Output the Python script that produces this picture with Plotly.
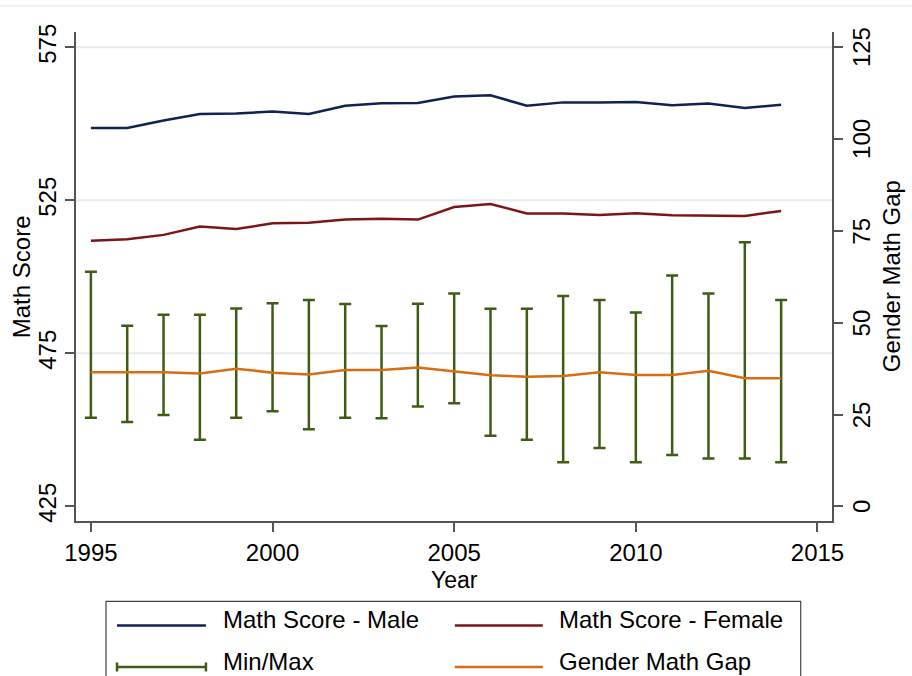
import plotly.graph_objects as go

# ---- data ----
years = list(range(1995, 2015))
male = [548.6, 548.6, 551.1, 553.2, 553.4, 554.0, 553.2, 555.9, 556.7, 556.8,
        558.9, 559.3, 555.9, 557.0, 557.0, 557.1, 556.1, 556.6, 555.2, 556.2]
female = [511.8, 512.3, 513.7, 516.4, 515.6, 517.5, 517.7, 518.7, 519.0, 518.7,
          522.8, 523.8, 520.7, 520.7, 520.2, 520.8, 520.1, 519.9, 519.9, 521.5]
gap = [36.5, 36.5, 36.5, 36.2, 37.5, 36.4, 35.9, 37.1, 37.1, 37.8,
       36.8, 35.7, 35.3, 35.5, 36.5, 35.8, 35.8, 36.9, 34.9, 34.9]
gap_max = [63.9, 49.2, 52.2, 52.2, 53.9, 55.3, 56.2, 55.1, 49.1, 55.2,
           58.0, 53.8, 53.8, 57.3, 56.2, 52.8, 62.9, 58.0, 71.9, 56.2]
gap_min = [24.1, 23.0, 24.9, 18.1, 24.1, 25.9, 21.0, 24.1, 24.0, 27.2,
           28.1, 19.2, 18.1, 12.0, 15.9, 12.0, 14.0, 13.0, 13.0, 12.0]

x_ticks = [1995, 2000, 2005, 2010, 2015]
left_ticks = [425, 475, 525, 575]
right_ticks = [0, 25, 50, 75, 100, 125]
grid_vals = [475, 525, 575]

legend_names = ["Math Score - Male", "Math Score - Female", "Min/Max", "Gender Math Gap"]
x_title = "Year"
y_title = "Math Score"
y2_title = "Gender Math Gap"

# ---- styles ----
C_MALE = "#102252"
C_FEMALE = "#7c1518"
C_GREEN = "#3e5c14"
C_ORANGE = "#d96c10"
AX = "#555555"
FONT = "Liberation Sans, Arial, sans-serif"
FS = 24

W, H = 912, 676
L, R, T, B = 76, 832.3, 32.3, 520.7


def px(x):
    return (x - L) / (R - L)


def py(y):
    return (B - y) / (B - T)


fig = go.Figure()

fig.add_trace(go.Scatter(x=years, y=male, mode="lines", name=legend_names[0],
                         line=dict(color=C_MALE, width=2.5), showlegend=False))
fig.add_trace(go.Scatter(x=years, y=female, mode="lines", name=legend_names[1],
                         line=dict(color=C_FEMALE, width=2.5), showlegend=False))

mid = [(a + b) / 2 for a, b in zip(gap_max, gap_min)]
half = [(a - b) / 2 for a, b in zip(gap_max, gap_min)]
fig.add_trace(go.Scatter(x=years, y=mid, mode="markers", name=legend_names[2], yaxis="y2",
                         marker=dict(size=1, color="rgba(0,0,0,0)"),
                         error_y=dict(type="data", symmetric=False, array=half, arrayminus=half,
                                      color=C_GREEN, thickness=2.5, width=6),
                         showlegend=False))
fig.add_trace(go.Scatter(x=years, y=gap, mode="lines", name=legend_names[3], yaxis="y2",
                         line=dict(color=C_ORANGE, width=2.5), showlegend=False))

axis_common = dict(ticks="outside", ticklen=9, tickwidth=1.5, tickcolor=AX,
                   showline=True, linecolor=AX, linewidth=1.5, showgrid=False,
                   zeroline=False, tickfont=dict(size=FS, color="black", family=FONT))

fig.update_layout(
    width=W, height=H,
    margin=dict(l=L, r=W - R, t=T, b=H - B, autoexpand=False),
    plot_bgcolor="white", paper_bgcolor="white",
    font=dict(family=FONT, size=FS, color="black"),
    showlegend=False,
    xaxis=dict(range=[1994.59, 2015.4], tickvals=x_ticks, **axis_common),
    yaxis=dict(range=[420.2, 580.0], tickvals=left_ticks, tickangle=-90, **axis_common),
    yaxis2=dict(range=[-4.0, 129.2], tickvals=right_ticks, overlaying="y",
                side="right", showticklabels=False, **axis_common),
)

shapes = []
for v in grid_vals:
    shapes.append(dict(type="line", xref="paper", yref="y", x0=0, x1=1, y0=v, y1=v,
                       line=dict(color="#e4ecf0", width=2), layer="below"))
# faint top border of the graph region
shapes.append(dict(type="line", xref="paper", yref="paper", x0=px(0), x1=px(W), y0=py(6), y1=py(6),
                   line=dict(color="#e8eef2", width=1.5)))
# legend box
shapes.append(dict(type="rect", xref="paper", yref="paper", x0=px(106), x1=px(801),
                   y0=py(601), y1=py(700), line=dict(color="#444444", width=1.2),
                   fillcolor="white"))

annotations = []
# right-axis tick labels (rotated, placed at the axis values)
for v in right_ticks:
    annotations.append(dict(xref="paper", yref="y2", x=px(862), y=v, text=str(v),
                            textangle=-90, showarrow=False, xanchor="center", yanchor="middle",
                            font=dict(size=FS, color="black", family=FONT)))
# axis titles
annotations.append(dict(xref="paper", yref="paper", x=px(21.7), y=py(276.5), text=y_title,
                        textangle=-90, showarrow=False, xanchor="center", yanchor="middle",
                        font=dict(size=FS, color="black", family=FONT)))
annotations.append(dict(xref="paper", yref="paper", x=px(892), y=py(276.5), text=y2_title,
                        textangle=-90, showarrow=False, xanchor="center", yanchor="middle",
                        font=dict(size=FS, color="black", family=FONT)))
annotations.append(dict(xref="paper", yref="paper", x=px(455), y=py(580), text=x_title,
                        showarrow=False, xanchor="center", yanchor="middle",
                        font=dict(size=23, color="black", family=FONT)))

# legend symbols
row_y = [625, 666.5]
text_y = [619, 661]
col_x = [(117, 206, 221), (455, 543, 557)]
items = [(0, 0, C_MALE, False), (0, 1, C_FEMALE, False), (1, 0, C_GREEN, True), (1, 1, C_ORANGE, False)]
for k, (r, c, col, caps) in enumerate(items):
    x0, x1, tx = col_x[c]
    y = row_y[r]
    shapes.append(dict(type="line", xref="paper", yref="paper", x0=px(x0), x1=px(x1),
                       y0=py(y), y1=py(y), line=dict(color=col, width=2.5)))
    if caps:
        for xc in (x0, x1):
            shapes.append(dict(type="line", xref="paper", yref="paper", x0=px(xc), x1=px(xc),
                               y0=py(y - 4.5), y1=py(y + 4.5), line=dict(color=col, width=2.5)))
    annotations.append(dict(xref="paper", yref="paper", x=px(tx), y=py(text_y[r]), text=legend_names[k],
                            showarrow=False, xanchor="left", yanchor="middle",
                            font=dict(size=FS, color="black", family=FONT)))

fig.update_layout(shapes=shapes, annotations=annotations)

fig.write_html("out.html", config={"displayModeBar": False},
               post_script="document.body.style.margin='0';")
